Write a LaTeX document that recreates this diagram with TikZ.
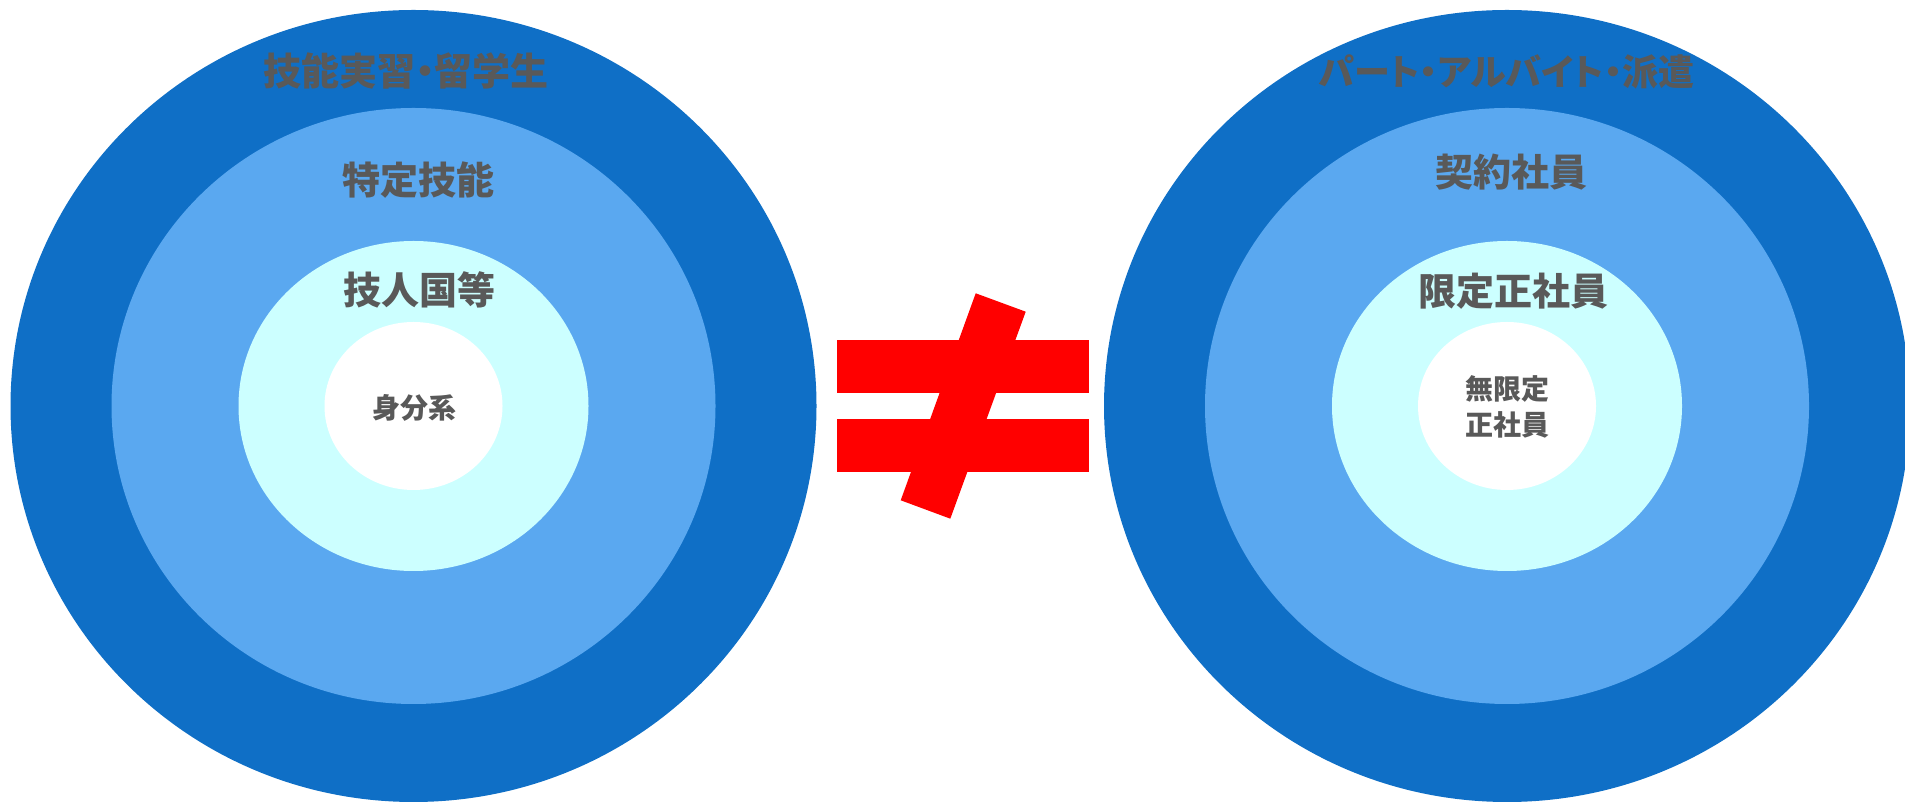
\documentclass[tikz,border=0pt]{standalone}
\usepackage{fontspec}
\usepackage{tikz}
\usepackage{xcolor}
\usetikzlibrary{positioning}
\newfontfamily\jpfont{Noto Sans CJK JP}
\newfontfamily\jppalt[RawFeature=+palt]{Noto Sans CJK JP}
\definecolor{deepblue}{HTML}{0F6FC6}
\definecolor{skyblue}{HTML}{5AA8F0}
\definecolor{paleaqua}{HTML}{CCFFFF}
\definecolor{labelgray}{HTML}{595959}
\definecolor{signred}{HTML}{FF0000}

\begin{document}
\begin{tikzpicture}[x=1pt,y=1pt,
    outerlabel/.style={text=labelgray, inner sep=0pt, font=\jppalt\bfseries\fontsize{38}{46}\selectfont},
    ringlabel/.style={text=labelgray, inner sep=0pt, font=\jpfont\bfseries\fontsize{38}{46}\selectfont},
    corelabel/.style={text=labelgray, inner sep=0pt, align=center, font=\jpfont\bfseries\fontsize{28}{36}\selectfont}]
    \useasboundingbox (0,0) rectangle (1905,805);

    % Nested rings, left and right
    \foreach \cx in {413.5,1507} {
        \fill[deepblue] (\cx,399) ellipse [x radius=403, y radius=396];
        \fill[skyblue] (\cx,399) ellipse [x radius=302, y radius=298];
        \fill[paleaqua] (\cx,399) ellipse [x radius=175, y radius=165];
        \fill[white] (\cx,399) ellipse [x radius=89, y radius=84];
    }

    % Not-equal sign
    \fill[signred] (836.7,412.3) rectangle (1089,465.3);
    \fill[signred] (836.7,333) rectangle (1089,385.7);
    \fill[signred] (975.7,511.7) -- (1025.7,493.3) -- (950.3,286.3) -- (900.7,304.7) -- cycle;

    % Left labels
    \node[outerlabel] (ginou) at (406,734) {技能実習・留学生};
    \node[ringlabel] (tokutei) at (418.5,625) {特定技能};
    \node[ringlabel] (gijinkoku) at (419,515) {技人国等};
    \node[corelabel] (mibun) at (414,397) {身分系};

    % Right labels
    \node[outerlabel, font=\jppalt\bfseries\fontsize{36}{44}\selectfont] (part) at (1506.5,733.5) {パート・アルバイト・派遣};
    \node[ringlabel] (keiyaku) at (1511,633) {契約社員};
    \node[ringlabel] (gentei) at (1513,514) {限定正社員};
    \node[corelabel] (mugentei) at (1507.5,398) {無限定\\正社員};

\end{tikzpicture}
\end{document}
